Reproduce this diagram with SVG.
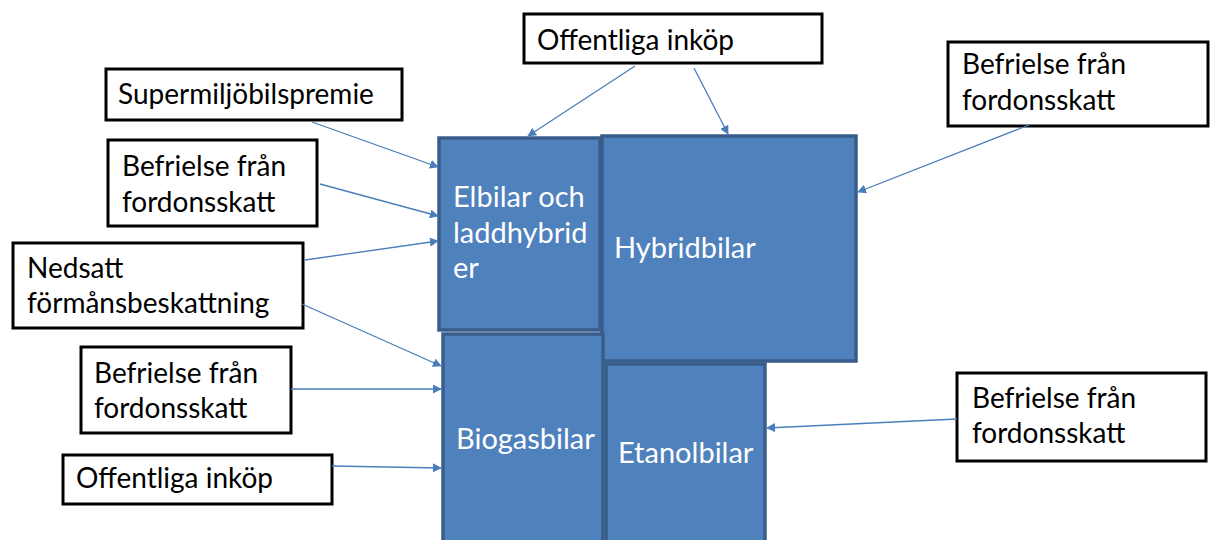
<svg xmlns="http://www.w3.org/2000/svg" width="1213" height="540" viewBox="0 0 1213 540">
  <defs>
    <marker id="arrow" viewBox="0 0 10 10" refX="9" refY="5" markerWidth="9" markerHeight="9" markerUnits="userSpaceOnUse" orient="auto">
      <path d="M0,0 L10,5 L0,10 z" fill="#4A7EBB"/>
    </marker>
    <style>
      .car rect { fill: #4F81BD; stroke: #385D8A; stroke-width: 3.5; }
      .car text { fill: #FFFFFF; font-family: Lato, "Open Sans", sans-serif; font-size: 29px; }
      .tool rect { fill: #FFFFFF; stroke: #000000; stroke-width: 3; }
      .tool text { fill: #000000; font-family: Lato, "Open Sans", sans-serif; font-size: 28px; }
      #connectors line { stroke: #4A7EBB; stroke-width: 1.3; marker-end: url(#arrow); }
    </style>
  </defs>
  <rect width="1213" height="540" fill="#FFFFFF"/>

  <!-- vehicle categories -->
  <g id="elbilar" class="car">
    <rect x="439" y="138" width="161" height="192"/>
    <text x="453" y="207">Elbilar och</text>
    <text x="453" y="243">laddhybrid</text>
    <text x="453" y="278">er</text>
  </g>
  <g id="hybridbilar" class="car">
    <rect x="602" y="136" width="254" height="225"/>
    <text x="614" y="258">Hybridbilar</text>
  </g>
  <g id="biogasbilar" class="car">
    <rect x="443" y="334" width="160" height="220"/>
    <text x="456" y="449">Biogasbilar</text>
  </g>
  <g id="etanolbilar" class="car">
    <rect x="606" y="364" width="159" height="190"/>
    <text x="618" y="463">Etanolbilar</text>
  </g>

  <!-- policy instruments -->
  <g id="offentliga-top" class="tool">
    <rect x="524" y="14" width="298" height="49"/>
    <text x="537" y="50">Offentliga inköp</text>
  </g>
  <g id="supermiljobilspremie" class="tool">
    <rect x="106" y="69" width="296" height="51"/>
    <text x="118" y="104">Supermiljöbilspremie</text>
  </g>
  <g id="befrielse-1" class="tool">
    <rect x="108" y="140" width="209" height="86"/>
    <text x="122" y="176">Befrielse från</text>
    <text x="122" y="212">fordonsskatt</text>
  </g>
  <g id="nedsatt" class="tool">
    <rect x="13" y="243" width="290" height="85"/>
    <text x="27" y="278">Nedsatt</text>
    <text x="27" y="313">förmånsbeskattning</text>
  </g>
  <g id="befrielse-2" class="tool">
    <rect x="81" y="347" width="210" height="86"/>
    <text x="94" y="383">Befrielse från</text>
    <text x="94" y="418">fordonsskatt</text>
  </g>
  <g id="offentliga-bottom" class="tool">
    <rect x="63" y="455" width="269" height="49"/>
    <text x="76" y="488">Offentliga inköp</text>
  </g>
  <g id="befrielse-hybrid" class="tool">
    <rect x="948" y="42" width="260" height="84"/>
    <text x="962" y="74">Befrielse från</text>
    <text x="962" y="110">fordonsskatt</text>
  </g>
  <g id="befrielse-etanol" class="tool">
    <rect x="957" y="373" width="249" height="88"/>
    <text x="972" y="408">Befrielse från</text>
    <text x="972" y="443">fordonsskatt</text>
  </g>

  <!-- arrows from instruments to vehicle categories -->
  <g id="connectors">
    <line x1="635" y1="66" x2="528" y2="136"/>
    <line x1="694" y1="68" x2="728" y2="134"/>
    <line x1="312" y1="122" x2="438" y2="167"/>
    <line x1="320" y1="184" x2="438" y2="216"/>
    <line x1="305" y1="260" x2="438" y2="241"/>
    <line x1="302" y1="304" x2="441" y2="366"/>
    <line x1="291" y1="389" x2="441" y2="389"/>
    <line x1="332" y1="466" x2="441" y2="468"/>
    <line x1="1029" y1="125" x2="858" y2="192"/>
    <line x1="957" y1="419" x2="767" y2="428"/>
  </g>
</svg>
